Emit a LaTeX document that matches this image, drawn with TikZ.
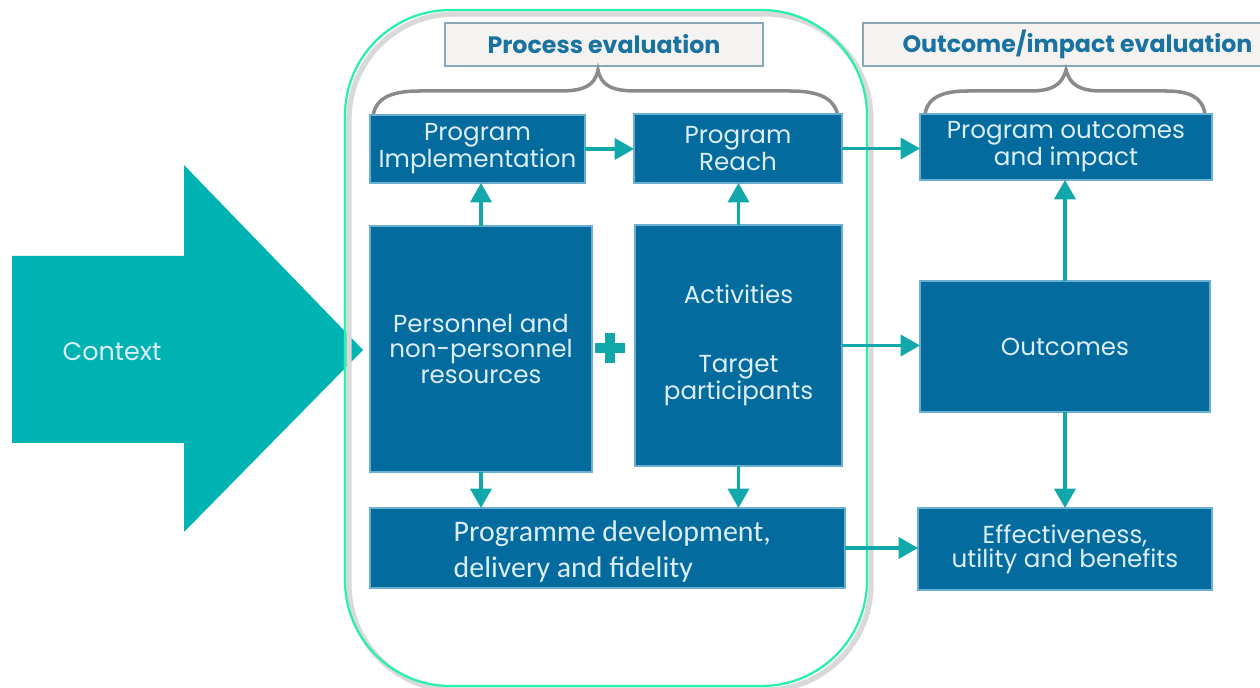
\documentclass[tikz,border=0pt]{standalone}
\usepackage{fontspec}
\setmainfont{Poppins}
\newfontfamily\devfont{Carlito}
\usetikzlibrary{arrows.meta,calc}
\definecolor{boxfill}{HTML}{046B9F}
\definecolor{boxedge}{HTML}{6AAFD0}
\definecolor{boxtext}{HTML}{DCEEF7}
\definecolor{teal}{HTML}{12A7AA}
\definecolor{ctxcol}{HTML}{00B3B3}
\definecolor{greenline}{HTML}{2AF0A8}
\definecolor{labfill}{HTML}{F4F3F1}
\definecolor{labedge}{HTML}{8AA7BA}
\definecolor{labtext}{HTML}{1A72A0}
\definecolor{bracecol}{HTML}{8A8A8A}
\tikzset{
  box/.style={draw=boxedge, fill=boxfill, line width=1pt, text=boxtext, font=\fontsize{14}{13.5}\selectfont, align=center, inner sep=0pt, outer sep=0pt, anchor=north west},
  lab/.style={draw=labedge, fill=labfill, line width=1.4pt, text=labtext, font=\fontsize{13.5}{16}\selectfont\bfseries, inner sep=0pt, outer sep=0pt, anchor=north west},
  arr/.style={draw=teal, line width=1.8pt, -{Triangle[length=11pt,width=12pt]}},
  bracestyle/.style={draw=bracecol, line width=2pt},
}
\begin{document}
\begin{tikzpicture}[x=0.02cm,y=-0.02cm]
\useasboundingbox (0,0) rectangle (1260,688);
\clip (0,0) rectangle (1260,688);
% context arrow
\fill[ctxcol] (12,256) -- (184,256) -- (184,165) -- (363,350) -- (184,532) -- (184,443) -- (12,443) -- cycle;
\node[text=boxtext, font=\fontsize{14.5}{16}\selectfont] (ctx) at (112,352) {Context};
% process frame
\draw[gray!30, line width=3pt, rounded corners=60] (349,14) rectangle (871,690);
\draw[greenline, line width=1.3pt, rounded corners=60] (345,10) rectangle (867,686);
% labels
\node[lab, minimum width=6.36cm, minimum height=0.86cm] (plab) at (445,23) {Process evaluation};
\node[lab, minimum width=8.3cm, minimum height=0.86cm, anchor=north west] (olab) at (863,23) {\hspace*{0.28cm}Outcome/impact evaluation\hfill};
% braces
\draw[bracestyle] (373,116) .. controls (376,96) and (395,91) .. (420,91) -- (560,91) .. controls (585,91) and (595,85) .. (598,70) .. controls (601,85) and (611,91) .. (636,91) -- (790,91) .. controls (815,91) and (834,96) .. (838,116);
\draw[bracestyle] (925,114) .. controls (928,96) and (945,91) .. (968,91) -- (1030,91) .. controls (1052,91) and (1062,85) .. (1066,70) .. controls (1070,85) and (1080,91) .. (1102,91) -- (1165,91) .. controls (1188,91) and (1202,96) .. (1205,114);
% boxes
\node[box, minimum width=4.30cm, minimum height=1.36cm] (impl) at (370,115) {Program\\Implementation};
\node[box, minimum width=4.16cm, minimum height=1.38cm] (reach) at (634,114) {Program\\Reach};
\node[box, minimum width=5.84cm, minimum height=1.32cm] (pout) at (920,114) {Program outcomes\\and impact};
\node[box, minimum width=4.44cm, minimum height=4.92cm, font=\fontsize{14}{14.7}\selectfont] (pers) at (370,226) {Personnel and\\non-personnel\\resources};
\node[box, minimum width=4.14cm, minimum height=4.82cm, font=\fontsize{14}{14.2}\selectfont] (act) at (635,225) {Activities\\[25pt]Target\\participants};
\node[box, minimum width=9.5cm, minimum height=1.6cm, font=\devfont\fontsize{17}{20.5}\selectfont, align=left] (dev) at (370,508) {\hspace*{1.55cm}\parbox[c]{7.7cm}{\vspace*{4pt}Programme development,\\delivery and fidelity}\hfill};
\node[box, minimum width=5.8cm, minimum height=2.62cm] (outc) at (920,281) {Outcomes};
\node[box, minimum width=5.88cm, minimum height=1.64cm] (eff) at (918,508) {Effectiveness,\\utility and benefits};
% plus
\fill[teal] (605,333) rectangle (615,363);
\fill[teal] (595,343) rectangle (625,353);
% connectors
\draw[arr] (impl.east) -- (impl.east -| reach.west);
\draw[arr] (reach.east) -- (reach.east -| pout.west);
\draw[arr] (pers.north) -- (pers.north |- impl.south);
\draw[arr] (act.north) -- (act.north |- reach.south);
\draw[arr] (pers.south) -- (pers.south |- dev.north);
\draw[arr] (act.south) -- (act.south |- dev.north);
\draw[arr] (act.east) -- (act.east -| outc.west);
\draw[arr] (outc.north) -- (outc.north |- pout.south);
\draw[arr] (outc.south) -- (outc.south |- eff.north);
\draw[arr] (dev.east) -- (dev.east -| eff.west);
\end{tikzpicture}
\end{document}
